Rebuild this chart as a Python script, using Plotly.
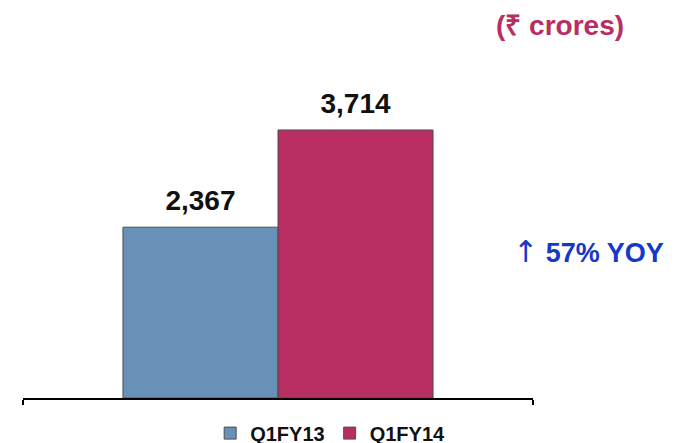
import plotly.graph_objects as go

periods = ["Q1FY13", "Q1FY14"]
revenue = [2367, 3714]
bar_colors = ["#6891b7", "#b82e63"]
unit_label = "(₹ crores)"
growth_arrow = "↑"
growth_label = "57% YOY"

FONT = "Arial, 'Liberation Sans', sans-serif"

fig = go.Figure()
for name, value, color in zip(periods, revenue, bar_colors):
    fig.add_trace(
        go.Bar(
            x=[""],
            y=[value],
            name=name,
            offsetgroup=name,
            marker={"color": color, "line": {"color": "#4d4d4d", "width": 1}},
            hoverinfo="skip",
        )
    )
    # value labels, lifted a little above the bar top
    fig.add_trace(
        go.Scatter(
            x=[""],
            y=[value],
            mode="markers+text",
            offsetgroup=name,
            marker={"size": 14, "opacity": 0},
            text=[f"{value:,}"],
            textposition="top center",
            textfont={"family": FONT, "size": 28, "color": "#111111", "weight": "bold"},
            showlegend=False,
            hoverinfo="skip",
            cliponaxis=False,
        )
    )

fig.add_annotation(
    text=f"<b>{unit_label}</b>", xref="paper", yref="paper", x=1.053, y=1.137,
    xanchor="center", yanchor="middle",
    showarrow=False, font={"family": FONT, "size": 28, "color": "#b82e63"},
)
fig.add_annotation(
    text=(
        f"<span style='font-family:DejaVu Sans;font-size:30px'>{growth_arrow}</span>"
        f" <b>{growth_label}</b>"
    ),
    xref="paper", yref="paper", x=1.108, y=0.448, xanchor="center", yanchor="middle",
    showarrow=False, font={"family": FONT, "size": 27, "color": "#1638c8"},
)
fig.add_annotation(
    text="2", xref="paper", yref="paper", x=1.284, y=-0.104, xanchor="left", yanchor="middle",
    showarrow=False, font={"family": "'Liberation Serif', serif", "size": 18, "color": "#000000"},
)

# the page body keeps its default 8px margin, so the figure is 8px smaller
fig.update_layout(
    width=675,
    height=435,
    margin={"l": 15, "r": 150, "t": 62, "b": 45, "autoexpand": False},
    paper_bgcolor="white",
    plot_bgcolor="white",
    barmode="group",
    bargap=0.392,
    bargroupgap=0,
    scattermode="group",
    scattergap=0.392,
    showlegend=True,
    legend={
        "orientation": "h", "x": 0.367, "xanchor": "left", "y": -0.107, "yanchor": "middle",
        "font": {"family": FONT, "size": 20, "color": "#111111", "weight": "bold"},
        "itemwidth": 30, "tracegroupgap": 0, "bgcolor": "rgba(0,0,0,0)",
    },
)
fig.update_xaxes(
    range=[-0.5, 0.5], showticklabels=False, showline=True, linecolor="#000000", linewidth=1.5,
    ticks="outside", tickson="boundaries", ticklen=5, tickcolor="#000000", tickwidth=1.5,
    showgrid=False, zeroline=False, fixedrange=True,
)
fig.update_yaxes(range=[0, 4545], visible=False, showgrid=False, zeroline=False)

fig.write_html("out.html")
